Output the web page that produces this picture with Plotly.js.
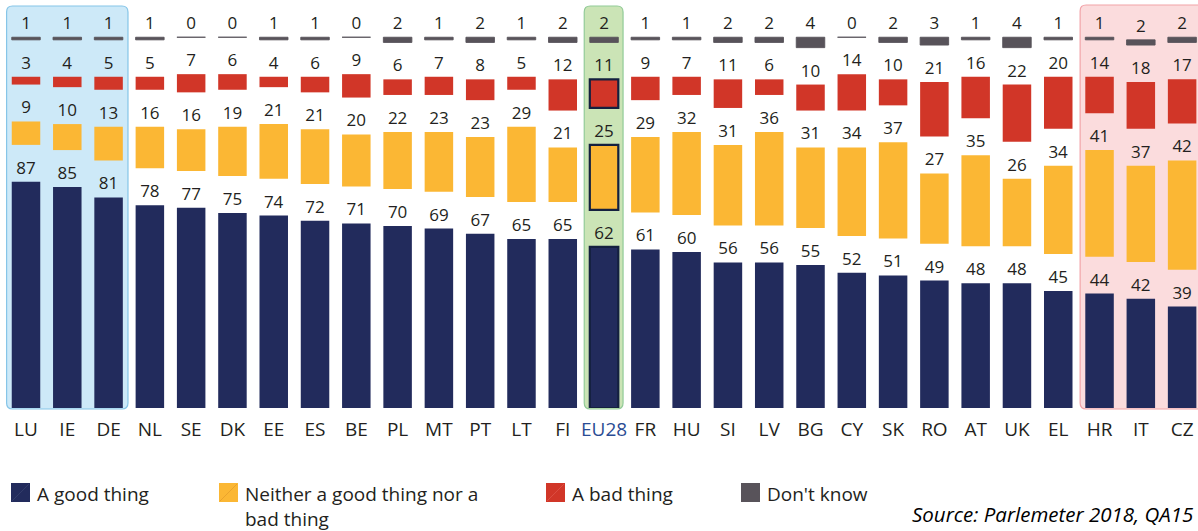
<!DOCTYPE html>
<html><head><meta charset="utf-8">
<script src="https://cdn.plot.ly/plotly-3.0.1.min.js"></script>
<style>html,body{margin:0;padding:0;background:#fff}#chart{width:1198px;height:531px}</style>
</head><body><div id="chart"></div>
<script>
// ---- data ----
const countries = ["LU","IE","DE","NL","SE","DK","EE","ES","BE","PL","MT","PT","LT","FI","EU28","FR","HU","SI","LV","BG","CY","SK","RO","AT","UK","EL","HR","IT","CZ"];
const goodThing = [87,85,81,78,77,75,74,72,71,70,69,67,65,65,62,61,60,56,56,55,52,51,49,48,48,45,44,42,39];
const neitherThing = [9,10,13,16,16,19,21,21,20,22,23,23,29,21,25,29,32,31,36,31,34,37,27,35,26,34,41,37,42];
const badThing = [3,4,5,5,7,6,4,6,9,6,7,8,5,12,11,9,7,11,6,10,14,10,21,16,22,20,14,18,17];
const dontKnow = [1,1,1,1,0,0,1,1,0,2,1,2,1,2,2,1,1,2,2,4,0,2,3,1,4,1,1,2,2];
const legendLabels = ["A good thing","Neither a good thing nor a<br>bad thing","A bad thing","Don't know"];
const sourceText = "Source: Parlemeter 2018, QA15";

// ---- styles ----
const FONT = "Open Sans";
const TXT = "#231F20";
const NAVY = "#222B5C", YELLOW = "#FBB734", RED = "#D13628", GREY = "#58535A";
const W = 1198, H = 531, PLOT_H = 408, UNIT = 2.6, STEP = 41.29;
const GAP = 14.2;             // visual gap between segments, in value units
const X0 = -26 / STEP;
const X1 = X0 + W / STEP;
const euIdx = countries.indexOf("EU28");

// bases for gapped stacking
const baseGood = goodThing.map(() => 0);
const baseNeither = goodThing.map((g) => g + GAP);
const baseBad = goodThing.map((g, i) => g + neitherThing[i] + 2 * GAP);
const baseDk = goodThing.map((g, i) => g + neitherThing[i] + badThing[i] + 3 * GAP);

function lw(w) { return countries.map((c, i) => i === euIdx ? w : 0); }

function barTrace(name, vals, base, color, line) {
  return {
    type: "bar", name: name, x: countries, y: vals, base: base,
    marker: { color: color, line: line },
    text: vals.map(String), textposition: "outside",
    textfont: { family: FONT, size: 17, color: TXT },
    cliponaxis: false, constraintext: "none",
    hoverinfo: "skip", showlegend: false
  };
}

const traces = [
  barTrace("A good thing", goodThing, baseGood, NAVY, { width: lw(2.2), color: "#14203F" }),
  barTrace("Neither", neitherThing, baseNeither, YELLOW, { width: lw(2.2), color: "#14203F" }),
  barTrace("A bad thing", badThing, baseBad, RED, { width: lw(2.2), color: "#14203F" }),
  barTrace("Don't know", dontKnow, baseDk, GREY, { width: 0.9, color: GREY })
];

// helpers: pixel -> paper
const px = (p) => p / W;
const py = (p) => (PLOT_H - p) / PLOT_H;
const idxPx = (i) => (i - X0) * STEP;

function roundRect(x0, y0, x1, y1, r) {
  const P = (x, y) => px(x).toFixed(5) + "," + py(y).toFixed(5);
  return "M" + P(x0 + r, y0) + " L" + P(x1 - r, y0) + " Q" + P(x1, y0) + " " + P(x1, y0 + r) +
    " L" + P(x1, y1 - r) + " Q" + P(x1, y1) + " " + P(x1 - r, y1) +
    " L" + P(x0 + r, y1) + " Q" + P(x0, y1) + " " + P(x0, y1 - r) +
    " L" + P(x0, y0 + r) + " Q" + P(x0, y0) + " " + P(x0 + r, y0) + " Z";
}

const shapes = [
  { type: "path", xref: "paper", yref: "paper", layer: "below",
    path: roundRect(idxPx(-0.47), 6, idxPx(2.47), 409, 6),
    fillcolor: "#CDE9F8", line: { color: "#86C5E8", width: 1.2 } },
  { type: "path", xref: "paper", yref: "paper", layer: "below",
    path: roundRect(idxPx(euIdx - 0.48), 6, idxPx(euIdx + 0.46), 409, 6),
    fillcolor: "#CBE4B6", line: { color: "#92CB98", width: 1.2 } },
  { type: "path", xref: "paper", yref: "paper", layer: "below",
    path: roundRect(idxPx(25.53), 5, idxPx(29.4), 409, 6),
    fillcolor: "#FBDCDD", line: { color: "#F2A3A8", width: 1.2 } }
];

// legend (drawn manually)
const legendX = [11, 219, 546, 741];
const legendColors = [NAVY, YELLOW, RED, GREY];
const legendDiag = ["#3A4470", "#E39B2A", "#E0584C", "#58535A"];
const annotations = [];
legendX.forEach((x, k) => {
  shapes.push({ type: "rect", xref: "paper", yref: "paper",
    x0: px(x), x1: px(x + 19), y0: py(502), y1: py(483),
    fillcolor: legendColors[k], line: { width: 0 } });
  shapes.push({ type: "line", xref: "paper", yref: "paper",
    x0: px(x + 1), x1: px(x + 18), y0: py(501), y1: py(484),
    line: { color: legendDiag[k], width: 0.7 } });
  annotations.push({ xref: "paper", yref: "paper", x: px(x + 24), y: py(478.5),
    xanchor: "left", yanchor: "top", align: "left", showarrow: false,
    text: legendLabels[k], font: { family: FONT, size: 19, color: TXT } });
});
annotations.push({ xref: "paper", yref: "paper", x: px(1195), y: py(513.5),
  xanchor: "right", yanchor: "middle", showarrow: false,
  text: "<i>" + sourceText + "</i>", font: { family: FONT, size: 20.5, color: "#000" } });

const ticktext = countries.map((c, i) => i === euIdx ? '<span style="color:#2A4C94">' + c + '</span>' : c);

const layout = {
  width: W, height: H,
  margin: { l: 0, r: 0, t: 0, b: 123 },
  paper_bgcolor: "#fff", plot_bgcolor: "rgba(0,0,0,0)",
  barmode: "overlay", bargap: 0.31,
  xaxis: { type: "category", range: [X0, X1], tickvals: countries, ticktext: ticktext,
    tickfont: { family: FONT, size: 19, color: TXT }, showgrid: false, zeroline: false,
    showline: false, ticks: "", ticklabelstandoff: 8, fixedrange: true },
  yaxis: { range: [0, PLOT_H / UNIT], visible: false, showgrid: false, zeroline: false, fixedrange: true },
  shapes: shapes, annotations: annotations, showlegend: false
};

Plotly.newPlot("chart", traces, layout, { displayModeBar: false, staticPlot: true });
</script>
</body></html>
